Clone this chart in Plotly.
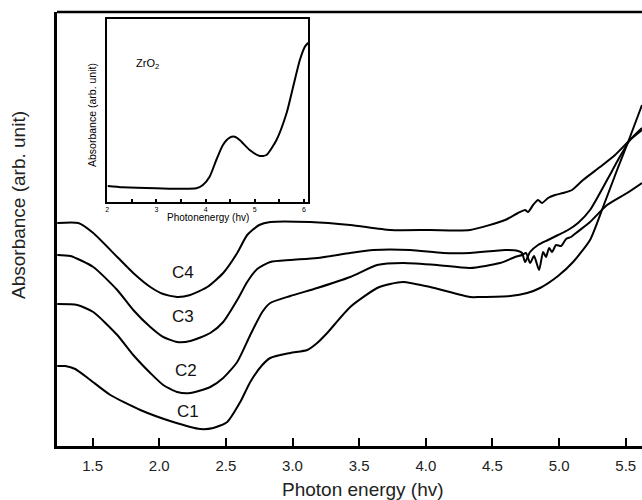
import plotly.graph_objects as go

# ---------------- data ----------------
# Main panel: photon energy (eV) vs absorbance (arb. unit)
c1_x = [1.235, 1.295, 1.370, 1.483, 1.633, 1.858, 2.105, 2.308, 2.405, 2.510, 2.608, 2.683,
        2.773, 2.833, 2.983, 3.110, 3.185, 3.260, 3.433, 3.635, 3.733, 3.830, 4.032, 4.332,
        4.408, 4.633, 4.760, 4.857, 4.992, 5.105, 5.232, 5.330, 5.435, 5.532, 5.622]
c1_y = [0.80, 0.80, 0.77, 0.66, 0.51, 0.36, 0.24, 0.17, 0.18, 0.24, 0.44, 0.64,
        0.81, 0.88, 0.93, 0.96, 1.03, 1.13, 1.39, 1.58, 1.62, 1.64, 1.59, 1.49,
        1.49, 1.50, 1.53, 1.58, 1.70, 1.84, 2.06, 2.39, 2.76, 3.09, 3.41]

c2_x = [1.235, 1.385, 1.505, 1.685, 1.805, 1.933, 2.030, 2.135, 2.233, 2.383, 2.480, 2.585,
        2.683, 2.773, 2.833, 2.983, 3.185, 3.433, 3.635, 3.830, 4.085, 4.332, 4.557, 4.670,
        4.722, 4.752, 4.782, 4.812, 4.850, 4.880, 4.902, 4.925, 4.947, 4.977, 5.015, 5.052,
        5.090, 5.127, 5.232, 5.360, 5.510, 5.622]
c2_y = [1.42, 1.41, 1.34, 1.11, 0.91, 0.73, 0.61, 0.54, 0.53, 0.59, 0.68, 0.84,
        1.11, 1.34, 1.43, 1.50, 1.58, 1.69, 1.81, 1.83, 1.81, 1.78, 1.83, 1.89,
        1.91, 1.93, 1.83, 1.90, 1.76, 1.94, 1.89, 1.98, 1.94, 2.01, 2.00, 2.07,
        2.09, 2.13, 2.24, 2.41, 2.53, 2.63]

c3_x = [1.235, 1.333, 1.505, 1.685, 1.805, 1.933, 2.030, 2.135, 2.233, 2.383, 2.480, 2.585,
        2.660, 2.735, 2.833, 2.983, 3.185, 3.433, 3.605, 3.883, 4.130, 4.332, 4.595, 4.692,
        4.722, 4.745, 4.782, 4.842, 4.917, 4.992, 5.067, 5.142, 5.232, 5.360, 5.442, 5.532,
        5.622]
c3_y = [1.91, 1.90, 1.79, 1.56, 1.36, 1.19, 1.09, 1.04, 1.05, 1.13, 1.24, 1.46,
        1.64, 1.77, 1.84, 1.86, 1.88, 1.93, 1.96, 1.96, 1.93, 1.93, 1.96, 1.95,
        1.93, 1.84, 1.94, 2.01, 2.06, 2.11, 2.16, 2.23, 2.36, 2.66, 2.86, 3.06,
        3.18]

c4_x = [1.235, 1.393, 1.505, 1.685, 1.805, 1.933, 2.030, 2.135, 2.233, 2.360, 2.480, 2.585,
        2.660, 2.750, 2.833, 3.133, 3.433, 3.733, 4.032, 4.332, 4.595, 4.692, 4.745,
        4.767, 4.805, 4.842, 4.872, 4.917, 4.970, 5.030, 5.097, 5.180, 5.307, 5.420, 5.532,
        5.622]
c4_y = [2.23, 2.23, 2.13, 1.89, 1.73, 1.59, 1.52, 1.49, 1.51, 1.59, 1.73, 1.93,
        2.11, 2.21, 2.24, 2.24, 2.21, 2.16, 2.16, 2.16, 2.26, 2.33, 2.36,
        2.34, 2.41, 2.46, 2.43, 2.48, 2.51, 2.53, 2.56, 2.66, 2.79, 2.91, 3.06,
        3.16]

curve_names = ["C1", "C2", "C3", "C4"]
main_ticks = [1.5, 2.0, 2.5, 3.0, 3.5, 4.0, 4.5, 5.0, 5.5]
main_ticktext = ["1.5", "2.0", "2.5", "3.0", "3.5", "4.0", "4.5", "5.0", "5.5"]

# Inset: ZrO2 absorbance
zr_x = [2.006, 2.312, 2.994, 3.810, 3.945, 4.082, 4.218, 4.353, 4.490, 4.592, 4.694,
        4.898, 5.102, 5.239, 5.443, 5.647, 5.782, 5.918, 6.020, 6.088]
zr_y = [15.5, 14.2, 13.2, 13.2, 16.5, 24.8, 41.5, 56.5, 63.8, 64.8, 61.5,
        51.5, 45.5, 46.5, 61.5, 88.2, 114.8, 141.5, 154.8, 158.8]
inset_ticks = [2, 3, 4, 5, 6]
inset_ticktext = ["2", "3", "4", "5", "6"]

# ---------------- figure ----------------
W, H = 642, 500
L, R, T, B = 57, 0, 12, 54
PW, PH = W - L - R, H - T - B


def px(xp):
    return (xp - L) / PW


def py(yp):
    return (H - B - yp) / PH


FONT = "Liberation Sans, Arial, sans-serif"
fig = go.Figure()

for xs, ys in [(c1_x, c1_y), (c2_x, c2_y), (c3_x, c3_y), (c4_x, c4_y)]:
    fig.add_trace(go.Scatter(x=xs, y=ys, mode="lines",
                             line=dict(color="black", width=2, shape="spline", smoothing=0.6),
                             hoverinfo="skip", showlegend=False))

fig.add_trace(go.Scatter(x=zr_x, y=zr_y, mode="lines", xaxis="x2", yaxis="y2",
                         line=dict(color="black", width=2, shape="spline", smoothing=0.6),
                         hoverinfo="skip", showlegend=False))

fig.update_layout(
    width=W, height=H,
    margin=dict(l=L, r=R, t=T, b=B, pad=0),
    paper_bgcolor="white", plot_bgcolor="white",
    font=dict(family=FONT, color="black"),
    xaxis=dict(range=[1.233, 5.622], showgrid=False, zeroline=False,
               showline=True, linecolor="black", linewidth=2.5,
               ticks="inside", ticklen=8, tickwidth=2, tickcolor="black",
               tickvals=main_ticks, ticktext=main_ticktext,
               tickfont=dict(size=15, family=FONT, color="#222"),
               ticklabelstandoff=4),
    yaxis=dict(range=[0, 4.34], showgrid=False, zeroline=False,
               showline=True, linecolor="black", linewidth=2.5,
               showticklabels=False, ticks=""),
    xaxis2=dict(domain=[px(107.3), px(308.3)], anchor="y2", range=[2.0, 6.09],
                showgrid=False, zeroline=False, showline=True, mirror=True,
                linecolor="black", linewidth=2,
                ticks="inside", ticklen=3, tickwidth=1.5, tickcolor="black",
                tickvals=inset_ticks, ticktext=inset_ticktext,
                minor=dict(ticks="inside", dtick=0.5, tick0=2, ticklen=3, tickwidth=1.5,
                           tickcolor="black", showgrid=False),
                tickfont=dict(size=7, family=FONT)),
    yaxis2=dict(domain=[py(201.5), py(19)], anchor="x2", range=[0, 182.5],
                showgrid=False, zeroline=False, showline=True, mirror=True,
                linecolor="black", linewidth=2, showticklabels=False, ticks=""),
    shapes=[dict(type="line", xref="paper", yref="paper", x0=0, x1=1, y0=1, y1=1,
                 line=dict(color="black", width=2.5))],
)

annots = [
    dict(text="C4", x=px(183), y=py(272.5)),
    dict(text="C3", x=px(183), y=py(316)),
    dict(text="C2", x=px(186), y=py(370)),
    dict(text="C1", x=px(188), y=py(411)),
]
for a in annots:
    fig.add_annotation(xref="paper", yref="paper", xanchor="center", yanchor="middle",
                       showarrow=False, font=dict(size=17, family=FONT, color="#111"), **a)

fig.add_annotation(text="Photon energy (hv)", xref="paper", yref="paper",
                   x=px(363), y=py(489), xanchor="center", yanchor="middle", showarrow=False,
                   font=dict(size=19, family=FONT, color="#222"))
fig.add_annotation(text="Absorbance (arb. unit)", xref="paper", yref="paper",
                   x=px(18), y=py(205), xanchor="center", yanchor="middle", showarrow=False,
                   textangle=-90, font=dict(size=19, family=FONT, color="#222"))

fig.add_annotation(text="ZrO<sub>2</sub>", xref="paper", yref="paper",
                   x=px(134), y=py(64), xanchor="left", yanchor="middle", showarrow=False,
                   font=dict(size=11, family=FONT))
fig.add_annotation(text="Absorbance (arb. unit)", xref="paper", yref="paper",
                   x=px(92), y=py(115), xanchor="center", yanchor="middle", showarrow=False,
                   textangle=-90, font=dict(size=10.5, family=FONT))
fig.add_annotation(text="Photonenergy (hv)", xref="paper", yref="paper",
                   x=px(208), y=py(217), xanchor="center", yanchor="middle", showarrow=False,
                   font=dict(size=10, family=FONT))

fig.write_html("out.html")
